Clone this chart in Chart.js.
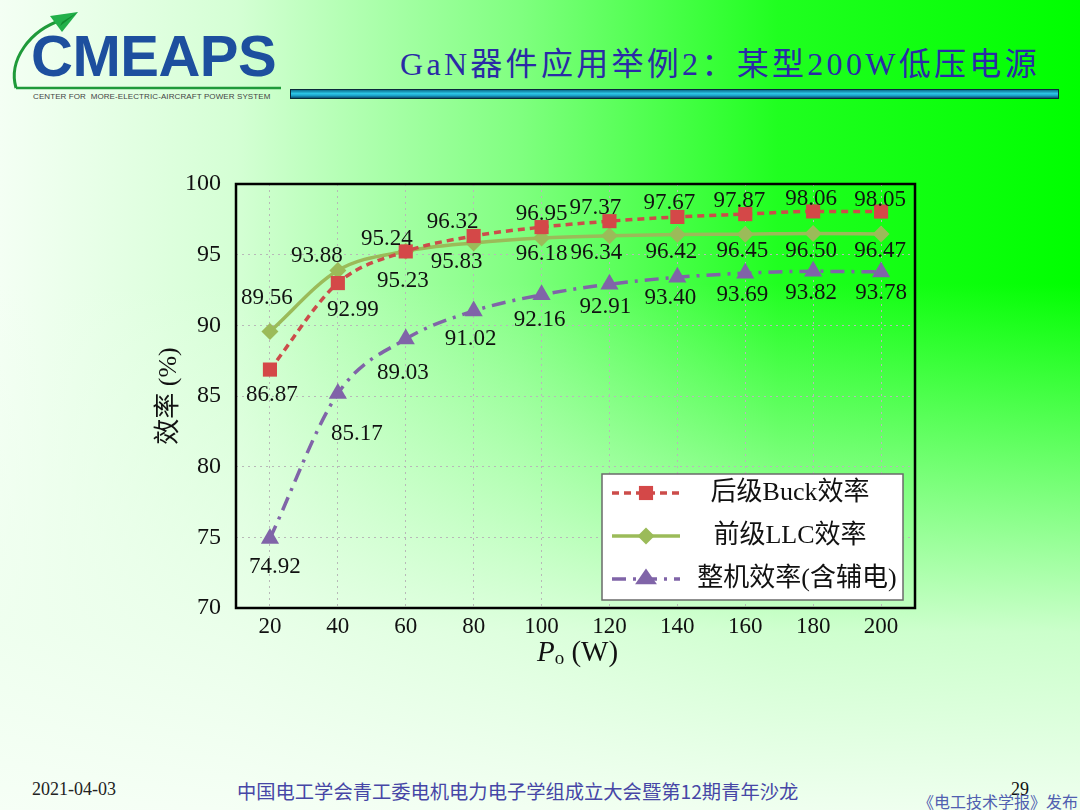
<!DOCTYPE html>
<html>
<head>
<meta charset="utf-8">
<script src="https://cdn.jsdelivr.net/npm/chart.js@4.4.0/dist/chart.umd.min.js"></script>
<style>
  html, body { margin: 0; padding: 0; }
  body {
    width: 1080px; height: 810px; position: relative; overflow: hidden;
    background:
      linear-gradient(to bottom, rgba(246,255,246,0) 0%, rgba(246,255,246,0) 35%, rgba(238,255,238,0.85) 78%, rgba(246,255,246,0.97) 100%),
      linear-gradient(to right, #f4fff4 0%, #d4ffd4 22%, #80ff80 48%, #20ff20 72%, #00ff00 100%);
    font-family: 'Liberation Serif', 'Noto Sans CJK SC', serif;
  }
  #chartWrap { position: absolute; left: 0; top: 0; width: 1080px; height: 810px; }
  .abs { position: absolute; white-space: nowrap; }
  #logoText {
    left: 31px; top: 27px; font-family: 'Liberation Sans', sans-serif; font-weight: bold;
    font-size: 58px; color: #1d4f9e; letter-spacing: -0.5px; line-height: 1;
  }
  #logoSub {
    left: 33px; top: 92px; font-family: 'Liberation Sans', sans-serif; font-size: 8px;
    color: #444; letter-spacing: 0.1px;
  }
  #title {
    left: 400px; top: 38px; font-size: 32px; color: #2a2aa6; letter-spacing: 3.3px;
    font-family: 'Liberation Serif', 'Noto Sans CJK SC', serif;
  }
  #titleBar {
    left: 290px; top: 89px; width: 767px; height: 8px; border: 1px solid #0a2a3a;
    background: linear-gradient(to bottom, #0b6f8f 0%, #2cc6e6 45%, #1aa0c8 70%, #08506e 100%);
  }
  .foot { top: 779px; font-size: 18px; }
</style>
</head>
<body>
<svg class="abs" style="left:0;top:0" width="300" height="100">
  <path d="M16 88 C 8 60, 30 30, 62 20" stroke="#1f9a3a" stroke-width="3" fill="none"/>
  <line x1="16" y1="88" x2="281" y2="88" stroke="#1f9a3a" stroke-width="2.5"/>
  <polygon points="50,16 78,12 62,32" fill="#22b04a"/>
  <polygon points="62,22 78,12 60,26" fill="#128a30"/>
</svg>
<div id="logoText" class="abs">CMEAPS</div>
<div id="logoSub" class="abs">CENTER FOR&nbsp; MORE-ELECTRIC-AIRCRAFT POWER SYSTEM</div>
<div id="title" class="abs">GaN器件应用举例2：某型200W低压电源</div>
<div id="titleBar" class="abs"></div>
<div class="abs foot" style="left:32px;color:#222;">2021-04-03</div>
<div class="abs foot" style="left:237px;color:#4646a6;font-family:'Noto Sans CJK SC';font-size:19.3px;top:777px;">中国电工学会青工委电机电力电子学组成立大会暨第12期青年沙龙</div>
<div class="abs foot" style="left:1011px;color:#111;">29</div>
<div class="abs" style="left:918px;top:789px;font-size:16px;color:#5060b0;font-family:'Noto Sans CJK SC';">《电工技术学报》发布</div>

<div id="chartWrap"><canvas id="effChart"></canvas></div>

<script>
const powers = [20, 40, 60, 80, 100, 120, 140, 160, 180, 200];
const buckEff = [86.87, 92.99, 95.23, 96.32, 96.95, 97.37, 97.67, 97.87, 98.06, 98.05];
const llcEff = [89.56, 93.88, 95.24, 95.83, 96.18, 96.34, 96.42, 96.45, 96.50, 96.47];
const totalEff = [74.92, 85.17, 89.03, 91.02, 92.16, 92.91, 93.40, 93.69, 93.82, 93.78];
const yTicks = [70, 75, 80, 85, 90, 95, 100];
const seriesNames = ['后级Buck效率', '前级LLC效率', '整机效率(含辅电)'];

// label offsets (dx, dy) from each point, per series
const labelOffsets = [
  [[2, 25], [15, 27], [-3, 30], [-21, -14], [0, -13], [-14, -13], [-8, -14], [-6, -13], [-2, -12], [-1, -12]],
  [[-3, -34], [-21, -15], [-19, -12], [-17, 19], [0, 16], [-13, 17], [-6, 17], [-3, 17], [-2, 17], [-1, 17]],
  [[5, 28], [19, 40], [-3, 34], [-3, 28], [-2, 25], [-4, 23], [-7, 21], [-3, 22], [-2, 22], [0, 21]]
];

const serif = "'Liberation Serif', 'Noto Sans CJK SC', serif";

function drawMarker(ctx, style, x, y, r, color) {
  ctx.fillStyle = color;
  ctx.beginPath();
  if (style === 'rect') {
    const s = r * Math.SQRT1_2;
    ctx.rect(x - s, y - s, 2 * s, 2 * s);
  } else if (style === 'rectRot') {
    ctx.moveTo(x, y - r); ctx.lineTo(x + r, y); ctx.lineTo(x, y + r); ctx.lineTo(x - r, y);
  } else {
    ctx.moveTo(x, y - r);
    ctx.lineTo(x + r * 1.04, y + r * 0.5);
    ctx.lineTo(x - r * 1.04, y + r * 0.5);
  }
  ctx.closePath();
  ctx.fill();
}

const framePlugin = {
  id: 'frame',
  beforeDatasetsDraw(chart) {
    const { ctx, chartArea: a } = chart;
    ctx.save();
    ctx.strokeStyle = '#000';
    ctx.lineWidth = 2.5;
    ctx.strokeRect(a.left, a.top, a.right - a.left, a.bottom - a.top);
    ctx.restore();
  }
};

const labelPlugin = {
  id: 'pointLabels',
  afterDatasetsDraw(chart) {
    const { ctx } = chart;
    ctx.save();
    ctx.font = '23px ' + serif;
    ctx.fillStyle = '#111';
    ctx.textAlign = 'center';
    ctx.textBaseline = 'middle';
    chart.data.datasets.forEach((ds, di) => {
      chart.getDatasetMeta(di).data.forEach((pt, i) => {
        const [dx, dy] = labelOffsets[di][i];
        ctx.fillText(ds.data[i].toFixed(2), pt.x + dx, pt.y + dy);
      });
    });
    ctx.restore();
  }
};

const extrasPlugin = {
  id: 'extras',
  afterDraw(chart) {
    const { ctx, chartArea: a } = chart;
    ctx.save();
    // x axis title: Po (W)
    const cx = (a.left + a.right) / 2 + 2, ty = a.bottom + 45;
    ctx.textBaseline = 'middle';
    ctx.fillStyle = '#111';
    const fMain = '29px ' + serif, fIt = 'italic 29px ' + serif, fSub = '19px ' + serif;
    ctx.font = fIt; const wP = ctx.measureText('P').width;
    ctx.font = fSub; const wO = ctx.measureText('o').width;
    ctx.font = fMain; const wW = ctx.measureText(' (W)').width;
    let x = cx - (wP + wO + wW) / 2;
    ctx.textAlign = 'left';
    ctx.font = fIt; ctx.fillText('P', x, ty); x += wP;
    ctx.font = fSub; ctx.fillText('o', x, ty + 6); x += wO;
    ctx.font = fMain; ctx.fillText(' (W)', x, ty);

    // legend box
    const bx = a.right - 313, by = a.bottom - 134, bw = 301, bh = 126;
    ctx.fillStyle = '#ffffff';
    ctx.fillRect(bx, by, bw, bh);
    ctx.strokeStyle = '#6a6a6a';
    ctx.lineWidth = 1.5;
    ctx.strokeRect(bx, by, bw, bh);
    chart.data.datasets.forEach((ds, di) => {
      const ly = by + 19 + di * 43;
      ctx.strokeStyle = ds.borderColor;
      ctx.lineWidth = 3.5;
      ctx.setLineDash(ds.borderDash || []);
      ctx.beginPath();
      ctx.moveTo(bx + 10, ly);
      ctx.lineTo(bx + 78, ly);
      ctx.stroke();
      ctx.setLineDash([]);
      drawMarker(ctx, ds.pointStyle, bx + 44, ly, ds.pointRadius, ds.pointBackgroundColor);
      ctx.fillStyle = '#111';
      ctx.font = '26px ' + serif;
      ctx.textAlign = 'center';
      ctx.fillText(ds.label, bx + 188 + (di === 2 ? 7 : 0), ly);
    });
    ctx.restore();
  }
};

new Chart('effChart', {
  type: 'line',
  data: {
    labels: powers.map(String),
    datasets: [
      {
        label: seriesNames[0], data: buckEff,
        borderColor: '#cc4c4a', borderWidth: 3.5, borderDash: [7, 5],
        pointStyle: 'rect', pointRadius: 10, pointBorderWidth: 0,
        pointBackgroundColor: '#d44848', cubicInterpolationMode: 'monotone'
      },
      {
        label: seriesNames[1], data: llcEff,
        borderColor: '#9bbb59', borderWidth: 3.5,
        pointStyle: 'rectRot', pointRadius: 8.5, pointBorderWidth: 0,
        pointBackgroundColor: '#9bbb59', cubicInterpolationMode: 'monotone'
      },
      {
        label: seriesNames[2], data: totalEff,
        borderColor: '#8064a8', borderWidth: 3.5, borderDash: [14, 7, 3, 7],
        pointStyle: 'triangle', pointRadius: 10.5, pointBorderWidth: 0,
        pointBackgroundColor: '#8064a8', cubicInterpolationMode: 'monotone'
      }
    ]
  },
  options: {
    responsive: true,
    maintainAspectRatio: false,
    animation: false,
    layout: { padding: { left: 150, right: 165, top: 184, bottom: 130 } },
    plugins: {
      legend: { display: false },
      tooltip: { enabled: false }
    },
    scales: {
      x: {
        type: 'category',
        offset: true,
        grid: { color: '#b8b8b8', lineWidth: 1, drawTicks: false },
        border: { display: false, dash: [2, 4] },
        ticks: { color: '#111', font: { family: serif, size: 23 }, padding: 5, maxRotation: 0 },
        afterFit(scale) { scale.height = 72; }
      },
      y: {
        min: 70, max: 100,
        afterBuildTicks(scale) { scale.ticks = yTicks.map(v => ({ value: v })); },
        grid: { color: '#b8b8b8', lineWidth: 1, drawTicks: false },
        border: { display: false, dash: [2, 4] },
        ticks: { color: '#111', font: { family: serif, size: 24 }, padding: 15 },
        title: {
          display: true, text: '效率 (%)', color: '#111',
          font: { family: serif, size: 26 }, padding: { top: 4, bottom: 0 }
        },
        afterFit(scale) { scale.width = 86; }
      }
    }
  },
  plugins: [framePlugin, labelPlugin, extrasPlugin]
});
</script>
</body>
</html>
